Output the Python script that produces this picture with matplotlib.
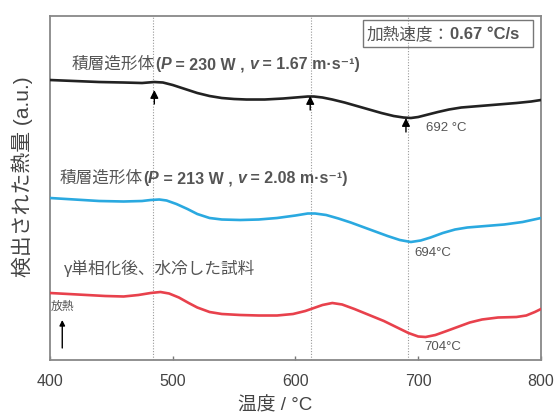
import numpy as np
import matplotlib
matplotlib.use('Agg')
import matplotlib.pyplot as plt
import matplotlib.transforms as mtransforms
from matplotlib.patches import Rectangle

plt.rcParams['font.family'] = ['Liberation Sans', 'Noto Sans CJK JP', 'DejaVu Sans']

# 温度 (°C) と検出熱量 (任意単位)
temp_black = [400, 420, 440, 460, 475, 485, 492, 500, 510, 520, 530, 540, 550, 560,
              575, 590, 600, 610, 615, 622, 630, 640, 650, 660, 670, 680, 688, 694,
              700, 708, 716, 725, 735, 750, 765, 780, 792, 800]
heat_black = [280, 279, 278, 277.5, 277, 278, 277.5, 275, 271, 267, 264, 262, 261, 260.5,
              260.5, 261.5, 262.5, 263.5, 263.5, 262.5, 260.5, 257.5, 254, 250.5, 247, 244,
              242.5, 242, 243, 245.5, 248, 250.5, 252.5, 254, 255.5, 257, 258.5, 260]

temp_blue = [400, 420, 440, 460, 475, 482, 489, 495, 503, 512, 520, 530, 540, 555,
             570, 585, 600, 610, 616, 625, 635, 645, 655, 665, 675, 685, 694, 702,
             710, 720, 730, 740, 755, 770, 785, 800]
heat_blue = [162, 160.5, 159, 158.5, 159, 160, 160.5, 159.5, 156, 151, 146, 142, 140.5, 140,
             140.5, 142, 144.5, 146.5, 146.5, 145, 141.5, 137.5, 133, 128.5, 124, 120, 118,
             119.5, 122.5, 127, 130.5, 132.5, 134, 135.5, 138, 142]

temp_red = [400, 415, 430, 445, 460, 472, 482, 490, 497, 505, 513, 520, 530, 540,
            555, 570, 585, 598, 608, 615, 622, 630, 638, 648, 660, 672, 682, 692,
            700, 706, 714, 722, 732, 742, 752, 765, 780, 788, 795, 800]
heat_red = [67, 66, 65, 64, 63.5, 65, 67, 68, 66.5, 62.5, 57, 52.5, 48, 46,
            45, 44.5, 44.5, 46, 49, 52, 55, 57, 55.5, 51, 45, 39, 33, 27,
            23.5, 23, 25, 28.5, 33, 37.5, 40.5, 42.5, 43, 44.5, 48, 51]

guide_temps = [484, 613, 692]
arrow_temps = [485, 612, 690]
arrow_tips = [270, 264, 242]

xticks = [400, 500, 600, 700, 800]

TXT = '#555555'

fig = plt.figure(figsize=(5.56, 4.17), dpi=100)
ax = fig.add_axes([0.0899, 0.1367, 0.8831, 0.8249])
ax.set_xlim(400, 800)
ax.set_ylim(0, 344)

for t in guide_temps:
    ax.axvline(t, color='#999999', lw=0.8, ls=(0, (1, 1.5)), zorder=1)

ax.plot(temp_black, heat_black, color='#222222', lw=1.9, zorder=3)
ax.plot(temp_blue, heat_blue, color='#2aa9e0', lw=1.9, zorder=3)
ax.plot(temp_red, heat_red, color='#e8414c', lw=1.9, zorder=3)

for t, tip in zip(arrow_temps, arrow_tips):
    ax.annotate('', xy=(t, tip), xytext=(t, tip - 14),
                arrowprops=dict(arrowstyle='-|>', color='black', lw=1.0,
                                mutation_scale=12, shrinkA=0, shrinkB=0))

# 放熱方向
ax.annotate('', xy=(410, 40), xytext=(410, 12),
            arrowprops=dict(arrowstyle='-|>', color='black', lw=1.0,
                            mutation_scale=8, shrinkA=0, shrinkB=0))
ax.text(401, 53, '放熱', fontsize=8.5, color=TXT, ha='left', va='center')

ax.text(706, 232, '692 °C', fontsize=9.5, color=TXT, va='center')
ax.text(697, 107, '694°C', fontsize=9.5, color=TXT, va='center')
ax.text(705, 13, '704°C', fontsize=9.5, color=TXT, va='center')

ax.text(411, 92, 'γ単相化後、水冷した試料', fontsize=12, color=TXT, va='center')


def chunks(x, y, parts):
    """同じベースラインに書式の違う文字列を並べる"""
    fig.canvas.draw()
    renderer = fig.canvas.get_renderer()
    dx = 0
    for s, kw in parts:
        tr = mtransforms.offset_copy(ax.transData, fig=fig, x=dx, y=0, units='dots')
        t = ax.text(x, y, s, transform=tr, color=TXT, va='baseline', ha='left', **kw)
        dx += t.get_window_extent(renderer).width


J = dict(fontsize=12)
B = dict(fontweight='bold', fontsize=11.5)
BI = dict(fontweight='bold', fontstyle='italic', fontsize=11.5)
chunks(418, 291, [('積層造形体', J), ('(', B), ('P', BI), (' = 230 W , ', B),
                  ('v', BI), (' = 1.67 m·s⁻¹)', B)])
chunks(408, 177, [('積層造形体', J), ('(', B), ('P', BI), (' = 213 W , ', B),
                  ('v', BI), (' = 2.08 m·s⁻¹)', B)])

ax.add_patch(Rectangle((0.6375, 0.910), 0.346, 0.078, transform=ax.transAxes,
                       fill=False, edgecolor='#777777', lw=1.0, zorder=4))
chunks(658, 321, [('加熱速度：', dict(fontsize=12)),
                  ('0.67 °C/s', dict(fontweight='bold', fontsize=12))])

ax.set_xticks(xticks)
ax.set_yticks([])
ax.tick_params(axis='x', direction='in', length=3, width=1, colors='#777777',
               labelcolor='#444444', labelsize=11.5, pad=10)
for sp in ax.spines.values():
    sp.set_color('#888888')
    sp.set_linewidth(1.3)

fig.text(0.495, 0.027, '温度 / °C', fontsize=13.5, color='#444444',
         ha='center', va='center')
fig.text(0.04, 0.576, '検出された熱量 (a.u.)', fontsize=15, color='#444444',
         ha='center', va='center', rotation=90)

fig.savefig('out.png', dpi=100)
